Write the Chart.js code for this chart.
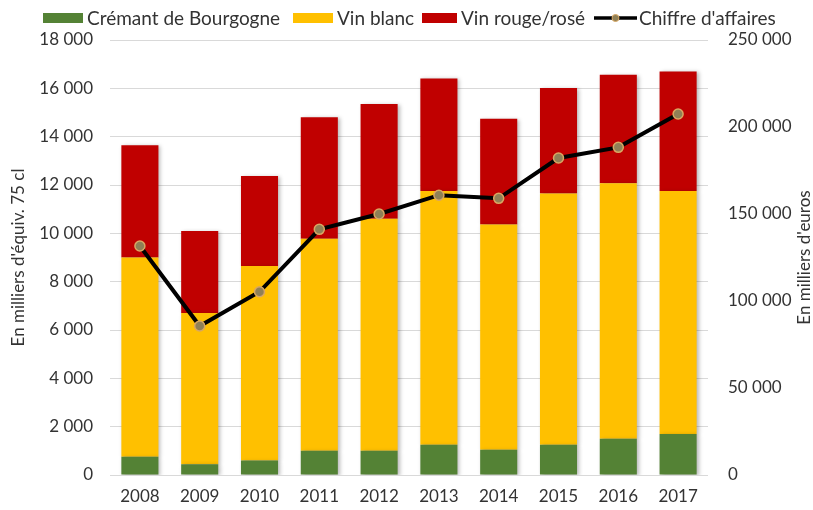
<!DOCTYPE html>
<html>
<head>
<meta charset="utf-8">
<script src="https://cdn.jsdelivr.net/npm/chart.js@4"></script>
<style>
html,body{margin:0;padding:0;background:#fff;}
#wrap{width:813px;height:510px;position:relative;}
</style>
</head>
<body>
<div id="wrap"><canvas id="c" width="813" height="510"></canvas></div>
<script>
const years = ['2008','2009','2010','2011','2012','2013','2014','2015','2016','2017'];
const cremant = [760, 450, 600, 1000, 1000, 1250, 1050, 1250, 1500, 1700];
const vinBlanc = [8240, 6250, 8050, 8780, 9600, 10500, 9320, 10400, 10570, 10050];
const vinRouge = [4650, 3400, 3720, 5020, 4750, 4660, 4370, 4360, 4490, 4950];
const chiffre = [131600, 85600, 105300, 141200, 150000, 160800, 159000, 182200, 188300, 207500];
const seriesNames = ['Crémant de Bourgogne', 'Vin blanc', 'Vin rouge/rosé', "Chiffre d'affaires"];
const colors = ['#548235', '#FFC000', '#C00000', '#000000'];

const FONT = 'Lato';
const TXT = '#333333';
function fmt(v){ return String(v).replace(/\B(?=(\d{3})+(?!\d))/g, ' '); }

const barShadow = {
  id: 'barShadow',
  beforeDatasetDraw(chart, args) {
    if (args.meta.type === 'bar') {
      const ctx = chart.ctx; ctx.save();
      ctx.shadowColor = 'rgba(0,0,0,0.28)';
      ctx.shadowBlur = 4; ctx.shadowOffsetX = 2; ctx.shadowOffsetY = 1;
    }
  },
  afterDatasetDraw(chart, args) {
    if (args.meta.type === 'bar') chart.ctx.restore();
  }
};

const customLegend = {
  id: 'customLegend',
  afterDraw(chart) {
    const ctx = chart.ctx;
    ctx.save();
    ctx.font = '19px ' + FONT;
    ctx.textBaseline = 'middle';
    ctx.fillStyle = TXT;
    const y = 18;
    const boxes = [[43, 40, 87], [293, 40, 337], [422, 35, 461]];
    for (let i = 0; i < 3; i++) {
      ctx.fillStyle = colors[i];
      ctx.fillRect(boxes[i][0], y - 5, boxes[i][1], 10);
      ctx.fillStyle = TXT;
      ctx.fillText(seriesNames[i], boxes[i][2], y + 1);
    }
    ctx.strokeStyle = '#000'; ctx.lineWidth = 3.5;
    ctx.beginPath(); ctx.moveTo(594, y); ctx.lineTo(637, y); ctx.stroke();
    ctx.beginPath(); ctx.arc(615.5, y, 3.5, 0, Math.PI * 2);
    ctx.fillStyle = '#8f8057'; ctx.fill();
    ctx.strokeStyle = '#d9a762'; ctx.lineWidth = 1; ctx.stroke();
    ctx.fillStyle = TXT;
    ctx.fillText(seriesNames[3], 639, y + 1);
    // right axis title (bottom-to-top)
    ctx.save();
    ctx.translate(805, chart.chartArea.top + (chart.chartArea.bottom - chart.chartArea.top) / 2);
    ctx.rotate(-Math.PI / 2);
    ctx.textAlign = 'center';
    ctx.font = '17px ' + FONT;
    ctx.fillText("En milliers d'euros", 0, 0);
    ctx.restore();
    ctx.restore();
  }
};

new Chart(document.getElementById('c'), {
  type: 'bar',
  data: {
    labels: years,
    datasets: [
      { type: 'line', label: seriesNames[3], data: chiffre, yAxisID: 'y1', order: 0,
        borderColor: '#000', borderWidth: 4, pointRadius: 5, pointHoverRadius: 5,
        pointBackgroundColor: '#8f8057', pointBorderColor: '#d9a762', pointBorderWidth: 1.5,
        tension: 0 },
      { label: seriesNames[0], data: cremant, backgroundColor: colors[0], order: 1, stack: 's' },
      { label: seriesNames[1], data: vinBlanc, backgroundColor: colors[1], order: 1, stack: 's' },
      { label: seriesNames[2], data: vinRouge, backgroundColor: colors[2], order: 1, stack: 's' }
    ]
  },
  options: {
    responsive: false,
    animation: false,
    layout: { padding: { top: 40, left: 0, right: 0, bottom: 0 } },
    datasets: { bar: { barPercentage: 0.62, categoryPercentage: 1.0 } },
    plugins: { legend: { display: false }, tooltip: { enabled: false } },
    scales: {
      x: {
        stacked: true,
        grid: { display: false, drawTicks: false },
        border: { display: false },
        ticks: { color: TXT, font: { family: FONT, size: 17 }, padding: 11 },
        afterFit(s) { s.height = 35; }
      },
      y: {
        stacked: true, position: 'left', min: 0, max: 18000,
        ticks: { stepSize: 2000, color: TXT, font: { family: FONT, size: 17 }, padding: 17,
          callback: v => fmt(v) },
        grid: { color: '#d9d9d9', drawTicks: false, lineWidth: 1 },
        border: { display: false },
        title: { display: true, text: "En milliers d'équiv. 75 cl", color: TXT,
          font: { family: FONT, size: 17 }, padding: { top: 8, bottom: 4 } },
        afterFit(s) { s.width = 110; }
      },
      y1: {
        position: 'right', min: 0, max: 250000,
        ticks: { stepSize: 50000, color: TXT, font: { family: FONT, size: 17 }, padding: 20,
          callback: v => fmt(v) },
        grid: { display: false, drawTicks: false },
        border: { display: false },
        afterFit(s) { s.width = 105; }
      }
    }
  },
  plugins: [barShadow, customLegend]
});
</script>
</body>
</html>
